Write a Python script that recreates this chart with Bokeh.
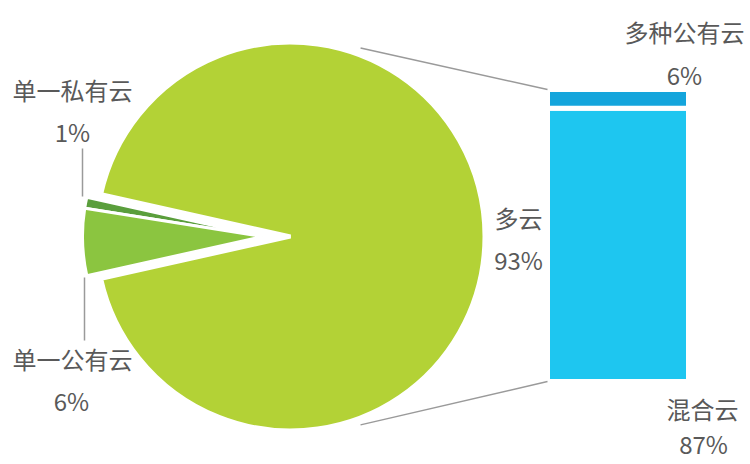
import numpy as np
from bokeh.plotting import figure
from bokeh.models import Range1d, ColumnDataSource
from bokeh.core.properties import value
from bokeh.embed import file_html
from bokeh.resources import INLINE

# ---- data ----
pie_labels = ["多云", "单一私有云", "单一公有云"]
pie_values = [93, 1, 6]
bar_labels = ["混合云", "多种公有云"]
bar_values = [87, 6]

# ---- layout / style ----
W, H = 750, 464
def Y(py):
    return H - py

FONT = value("Noto Sans CJK SC")
TXT_COLOR = "#595959"
TXT_SIZE = "24px"

big_color = "#b3d236"
small_colors = ["#5a9e3c", "#8bc540"]
bar_colors = ["#1ec6f0", "#14a5dc"]

cx, cy, R = 290, 236, 194          # main pie
scx, R2 = 262, 180                 # exploded small slices
bar_left, bar_right, bar_base = 547, 688, 381
bar_px_total = 292

p = figure(width=W, height=H, x_range=Range1d(0, W), y_range=Range1d(0, H),
           output_backend="svg", toolbar_location=None, min_border=0,
           x_axis_location=None, y_axis_location=None)
p.grid.visible = False
p.outline_line_color = None
p.background_fill_color = "white"
p.border_fill_color = "white"

total = sum(pie_values)
small_total = sum(pie_values[1:])
span = small_total / total * 360.0

# main slice
p.wedge(x=cx, y=Y(cy), radius=R,
        start_angle=np.radians(180 + span / 2), end_angle=np.radians(180 - span / 2),
        fill_color=big_color, line_color="white", line_width=4)

# small slices (top: 单一私有云, below: 单一公有云)
a = 180 - span / 2
starts, ends = [], []
for v in pie_values[1:]:
    starts.append(np.radians(a))
    a += v / total * 360.0
    ends.append(np.radians(a))
src_small = ColumnDataSource(dict(start=starts, end=ends, color=small_colors))
p.wedge(x=scx, y=Y(cy), radius=R2, start_angle="start", end_angle="end",
        fill_color="color", line_color="white", line_width=3, source=src_small)

# bar (stacked from bottom: 混合云, 多种公有云)
scale = bar_px_total / sum(bar_values)
bottoms, tops = [], []
acc = 0
for v in bar_values:
    bottoms.append(Y(bar_base) + acc * scale)
    acc += v
    tops.append(Y(bar_base) + acc * scale)
src_bar = ColumnDataSource(dict(bottom=bottoms, top=tops, color=bar_colors))
p.quad(left=bar_left, right=bar_right, bottom="bottom", top="top",
       fill_color="color", line_color="white", line_width=5, source=src_bar)

# connector lines
ang = np.radians(69.6)
rr = R + 7
bar_top = Y(bar_base) + sum(bar_values) * scale
p.line(x=[cx + rr * np.cos(ang), bar_left], y=[Y(cy) + rr * np.sin(ang), bar_top],
       line_color="#9a9a9a", line_width=1.5)
p.line(x=[cx + rr * np.cos(ang), bar_left], y=[Y(cy) - rr * np.sin(ang), Y(bar_base)],
       line_color="#9a9a9a", line_width=1.5)

# leader lines for small slices
lx = scx - R2
p.line(x=[lx, lx], y=[Y(148), Y(196)], line_color="#9a9a9a", line_width=1.5)
p.line(x=[lx + 2, lx + 2], y=[Y(277), Y(340)], line_color="#9a9a9a", line_width=1.5)

# labels
names = [pie_labels[0], pie_labels[1], pie_labels[2], bar_labels[1], bar_labels[0]]
pcts = [pie_values[0], pie_values[1], pie_values[2], bar_values[1], bar_values[0]]
name_pos = [(518, 217), (72, 89), (72, 358), (684, 31), (702, 408)]
pct_pos = [(518, 259), (72, 131), (71, 400), (684, 74), (703, 443)]

texts, xs, ys = [], [], []
for n, v, (nx, ny), (px, py) in zip(names, pcts, name_pos, pct_pos):
    texts += [n, f"{v}%"]
    xs += [nx, px]
    ys += [Y(ny), Y(py)]
src_txt = ColumnDataSource(dict(x=xs, y=ys, text=texts))
p.text(x="x", y="y", text="text", source=src_txt, text_font=FONT,
       text_font_size=TXT_SIZE, text_color=TXT_COLOR,
       text_align="center", text_baseline="middle")

open("out.html", "w").write(file_html(p, INLINE))
